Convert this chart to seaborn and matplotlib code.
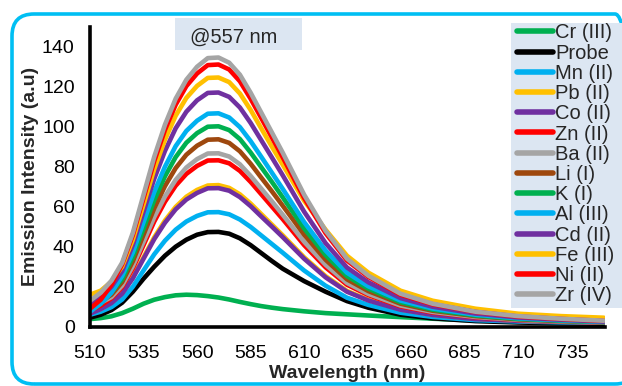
import matplotlib
matplotlib.use("Agg")
import matplotlib.pyplot as plt
from matplotlib.patches import FancyBboxPatch, Rectangle
from matplotlib.transforms import IdentityTransform
from matplotlib.lines import Line2D
from matplotlib.ticker import MultipleLocator
import pandas as pd
import seaborn as sns

# Emission spectra, intensity in a.u.
wavelength = [510, 515, 520, 525, 530, 535, 540, 545, 550, 555, 560, 565, 570, 575,
              580, 585, 590, 595, 600, 610, 620, 630, 640, 655, 670, 690, 710, 730, 750]

cr3 = [3.8, 4.3, 5.2, 6.8, 9.0, 11.5, 13.5, 14.8, 15.7, 16.0, 15.8, 15.3, 14.6, 13.6,
       12.4, 11.3, 10.3, 9.5, 8.8, 7.7, 6.8, 6.2, 5.6, 4.8, 4.0, 3.1, 2.5, 2.0, 1.7]
probe = [4.5, 6.0, 8.3, 12.0, 17.5, 24.0, 30.0, 35.5, 40.0, 43.5, 46.0, 47.3, 47.4, 46.5,
         44.2, 40.8, 36.8, 32.8, 29.0, 22.8, 17.5, 12.8, 9.5, 6.0, 4.2, 2.8, 2.1, 1.7, 1.5]
mn2 = [6.0, 7.5, 9.8, 13.6, 20.0, 28.1, 36.2, 43.0, 48.5, 52.6, 55.4, 57.2, 57.3, 56.2,
       53.6, 49.9, 45.6, 41.3, 37.0, 28.1, 20.5, 14.5, 10.9, 7.0, 4.9, 3.3, 2.6, 2.2, 2.0]
pb2 = [7.0, 8.9, 12.1, 16.8, 24.7, 34.7, 44.7, 53.1, 59.9, 65.0, 68.4, 70.6, 70.8, 69.4,
       66.2, 61.6, 56.3, 51.0, 45.7, 34.7, 25.3, 17.9, 13.4, 8.7, 6.0, 4.0, 3.0, 2.5, 2.2]
co2 = [6.5, 8.8, 11.8, 16.5, 24.2, 34.0, 43.8, 52.0, 58.7, 63.6, 66.9, 69.2, 69.3, 68.0,
       64.8, 60.3, 55.1, 50.0, 44.8, 34.0, 24.7, 17.5, 13.1, 8.5, 5.9, 3.8, 2.9, 2.4, 2.1]
zn2 = [8.0, 10.5, 14.2, 19.8, 29.1, 40.8, 52.6, 62.5, 70.5, 76.4, 80.4, 83.1, 83.2, 81.7,
       77.9, 72.4, 66.2, 60.0, 53.8, 40.8, 29.7, 21.0, 15.8, 10.2, 7.1, 4.7, 3.3, 2.6, 2.2]
ba2 = [10.0, 12.0, 14.8, 20.6, 30.3, 42.5, 54.8, 65.1, 73.4, 79.6, 83.8, 86.6, 86.7, 85.1,
       81.2, 75.4, 69.0, 62.6, 56.0, 42.5, 31.0, 21.9, 16.4, 10.6, 7.4, 4.9, 3.4, 2.6, 2.2]
li1 = [10.5, 12.5, 16.0, 22.3, 32.7, 46.0, 59.2, 70.3, 79.3, 86.0, 90.5, 93.5, 93.7, 91.9,
       87.7, 81.5, 74.5, 67.6, 60.5, 46.0, 33.5, 23.7, 17.8, 11.5, 8.0, 5.3, 3.7, 2.8, 2.3]
k1 = [8.0, 11.5, 17.1, 23.8, 35.0, 49.1, 63.3, 75.2, 84.8, 92.0, 96.8, 100.0, 100.2, 98.3,
      93.8, 87.1, 79.7, 72.3, 64.7, 49.1, 35.8, 25.3, 19.0, 12.3, 8.5, 5.6, 3.9, 3.0, 2.3]
al3 = [7.5, 11.5, 17.0, 25.4, 37.2, 52.3, 67.4, 80.0, 90.3, 97.9, 103.0, 106.5, 106.7, 104.6,
       99.8, 92.8, 84.9, 76.9, 68.9, 52.3, 38.1, 27.0, 20.2, 13.1, 9.1, 6.0, 4.2, 3.2, 2.4]
cd2 = [11.0, 14.8, 20.0, 27.8, 40.9, 57.5, 74.0, 87.9, 99.2, 107.5, 113.2, 116.9, 117.1, 114.9,
       109.6, 101.9, 93.2, 84.5, 75.7, 57.5, 41.8, 29.6, 22.2, 14.3, 10.0, 6.6, 4.6, 3.5, 2.6]
fe3 = [16.0, 18.0, 22.5, 30.0, 43.5, 61.1, 78.8, 93.5, 105.5, 114.4, 120.4, 124.4, 124.6, 122.3,
       116.6, 108.4, 99.1, 89.9, 81.0, 63.0, 48.5, 35.5, 27.0, 18.0, 13.0, 9.0, 6.5, 5.3, 4.5]
ni2 = [9.0, 13.5, 21.0, 31.2, 45.8, 64.3, 82.8, 98.4, 111.0, 120.3, 126.6, 130.8, 131.1, 128.6,
       122.7, 114.0, 104.3, 94.5, 84.7, 64.3, 46.8, 33.1, 24.9, 16.0, 11.2, 7.4, 5.1, 3.9, 2.9]
zr4 = [13.0, 17.0, 23.0, 32.0, 47.0, 66.0, 85.0, 101.0, 114.0, 123.5, 130.0, 134.3, 134.6, 132.0,
       126.0, 117.0, 107.0, 97.0, 87.0, 66.0, 48.0, 34.0, 25.5, 16.5, 11.5, 7.5, 5.3, 4.0, 3.0]

labels = ["Cr (III)", "Probe", "Mn (II)", "Pb (II)", "Co (II)", "Zn (II)", "Ba (II)",
          "Li (I)", "K (I)", "Al (III)", "Cd (II)", "Fe (III)", "Ni (II)", "Zr (IV)"]
series = [cr3, probe, mn2, pb2, co2, zn2, ba2, li1, k1, al3, cd2, fe3, ni2, zr4]
colors = ["#00B050", "#000000", "#00B0F0", "#FFC000", "#7030A0", "#FF0000", "#A5A5A5",
          "#9E480E", "#00B050", "#00B0F0", "#7030A0", "#FFC000", "#FF0000", "#A5A5A5"]

x_ticks = [510, 535, 560, 585, 610, 635, 660, 685, 710, 735]
y_ticks = [0, 20, 40, 60, 80, 100, 120, 140]

frames = [pd.DataFrame({"Wavelength": wavelength, "Intensity": vals, "Ion": name})
          for name, vals in zip(labels, series)]
df = pd.concat(frames, ignore_index=True)

sns.set_theme(style="white")
plt.rcParams["font.family"] = ["Liberation Sans", "DejaVu Sans"]

fig = plt.figure(figsize=(6.22, 3.86), dpi=100)
ax = fig.add_axes([0.1447, 0.1536, 0.828, 0.7772])

sns.lineplot(data=df, x="Wavelength", y="Intensity", hue="Ion", hue_order=labels,
             palette=dict(zip(labels, colors)), linewidth=3.3, sort=False,
             legend=False, ax=ax)
for line in ax.get_lines():
    line.set_solid_joinstyle("round")
    line.set_solid_capstyle("round")

ax.set_xlim(510, 750.5)
ax.set_ylim(0, 150)
ax.set_xticks(x_ticks)
ax.set_yticks(y_ticks)
ax.xaxis.set_minor_locator(MultipleLocator(12.5))
ax.yaxis.set_minor_locator(MultipleLocator(10))
ax.tick_params(axis="both", which="both", direction="out", length=4, width=2.5,
               color="black", labelsize=14, labelcolor="black")
ax.tick_params(axis="x", which="major", pad=9)
ax.tick_params(axis="y", which="major", pad=7)
ax.tick_params(axis="both", which="minor", labelleft=False, labelbottom=False)
for side in ("top", "right"):
    ax.spines[side].set_visible(False)
for side in ("left", "bottom"):
    ax.spines[side].set_color("black")
    ax.spines[side].set_linewidth(2.6)
ax.set_facecolor("none")

ax.set_xlabel("Wavelength (nm)", fontsize=14, fontweight="bold", labelpad=2)
ax.set_ylabel("Emission Intensity (a.u)", fontsize=14, fontweight="bold", labelpad=2)

# peak marker box
fig.patches.append(Rectangle((175, 336), 127, 32, transform=IdentityTransform(),
                             fc="#DCE6F2", ec="none", zorder=1))
fig.text(0.3754, 0.904, "@557 nm", fontsize=14.5, ha="center", va="center", zorder=2)

# legend panel background
fig.patches.append(Rectangle((511, 78), 111, 285, transform=IdentityTransform(),
                             fc="#DCE6F2", ec="none", zorder=1))
handles = [Line2D([0], [0], color=c, lw=4, solid_capstyle="round") for c in colors]
leg = fig.legend(handles, labels, loc="upper left", bbox_to_anchor=(517 / 622, 1 - 23.5 / 386),
                 fontsize=14.5, frameon=False, handlelength=1.79,
                 handletextpad=0.1, labelspacing=0.06, borderpad=0.0,
                 borderaxespad=0.0)
leg.set_zorder(3)

# rounded outer frame
frame = FancyBboxPatch((12, 2), 625, 370, boxstyle="round,pad=0,rounding_size=22",
                       transform=IdentityTransform(), fill=False, ec="#00BFF3",
                       lw=2.6, zorder=0)
fig.patches.append(frame)

fig.savefig("out.png", dpi=100)
